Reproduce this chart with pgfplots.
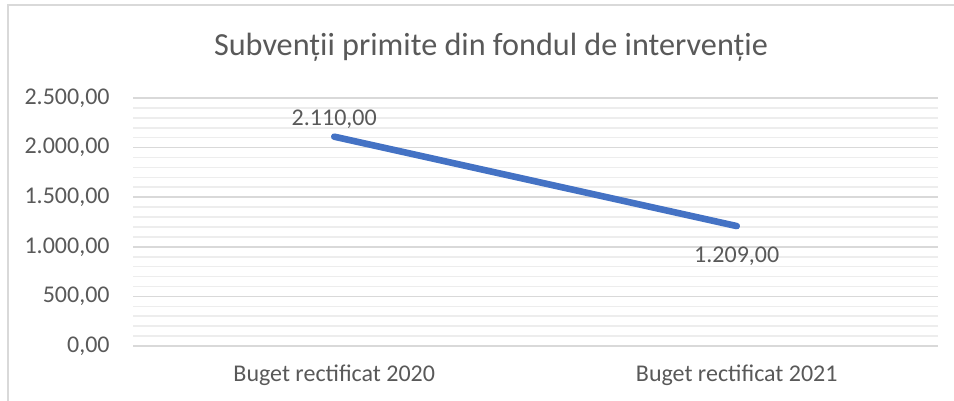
\documentclass[border=0pt]{standalone}
\usepackage{fontspec}
\setmainfont{Carlito}
\usepackage{pgfplots}
\pgfplotsset{compat=1.18}

\definecolor{linieblue}{HTML}{4472C4}
\definecolor{txtgray}{HTML}{595959}
\definecolor{majgrid}{HTML}{D9D9D9}
\definecolor{mingrid}{HTML}{EDEDED}

\tikzset{
  roval/.style={/pgf/number format/fixed, /pgf/number format/fixed zerofill,
    /pgf/number format/precision=2, /pgf/number format/use comma,
    /pgf/number format/1000 sep={.}, /pgf/number format/assume math mode=true},
}

\begin{document}
\begin{tikzpicture}
\path[use as bounding box] (0,0) rectangle (477pt,200.5pt);
\draw[majgrid, line width=0.8pt] (4pt,-2pt) -- (4pt,198pt) -- (480pt,198pt);
\node[txtgray, font=\fontsize{16.1}{18}\selectfont] at (245.5pt,177pt)
  {Subvenții primite din fondul de intervenție};
\begin{axis}[
  at={(66.5pt,27.5pt)}, anchor=south west,
  width=402.5pt, height=124pt, scale only axis,
  xmin=-0.5, xmax=1.5, ymin=0, ymax=2500,
  xtick={0,1}, xticklabels={Buget rectificat 2020, Buget rectificat 2021},
  ytick={0,500,...,2500},
  minor y tick num=4,
  ymajorgrids, yminorgrids,
  major grid style={majgrid, line width=0.8pt},
  minor grid style={mingrid, line width=0.8pt},
  axis line style={draw=none},
  tick style={draw=none},
  ticklabel style={txtgray, font=\fontsize{12}{14}\selectfont},
  yticklabel style={roval, inner sep=0pt, xshift=-11.5pt},
  xticklabel style={inner sep=0pt, anchor=base, yshift=-18pt},
  clip=false,
]
\addplot[linieblue, line width=3.3pt, line cap=round, mark=none]
  coordinates {(0,2110) (1,1209)};
\addplot[draw=none, mark=none, nodes near coords,
  every node near coord/.append style={roval, txtgray, font=\fontsize{12}{14}\selectfont,
    anchor=center, inner sep=0pt, yshift=8.75pt}]
  coordinates {(0,2110)};
\addplot[draw=none, mark=none, nodes near coords,
  every node near coord/.append style={roval, txtgray, font=\fontsize{12}{14}\selectfont,
    anchor=center, inner sep=0pt, yshift=-15pt}]
  coordinates {(1,1209)};
\end{axis}
\end{tikzpicture}
\end{document}
